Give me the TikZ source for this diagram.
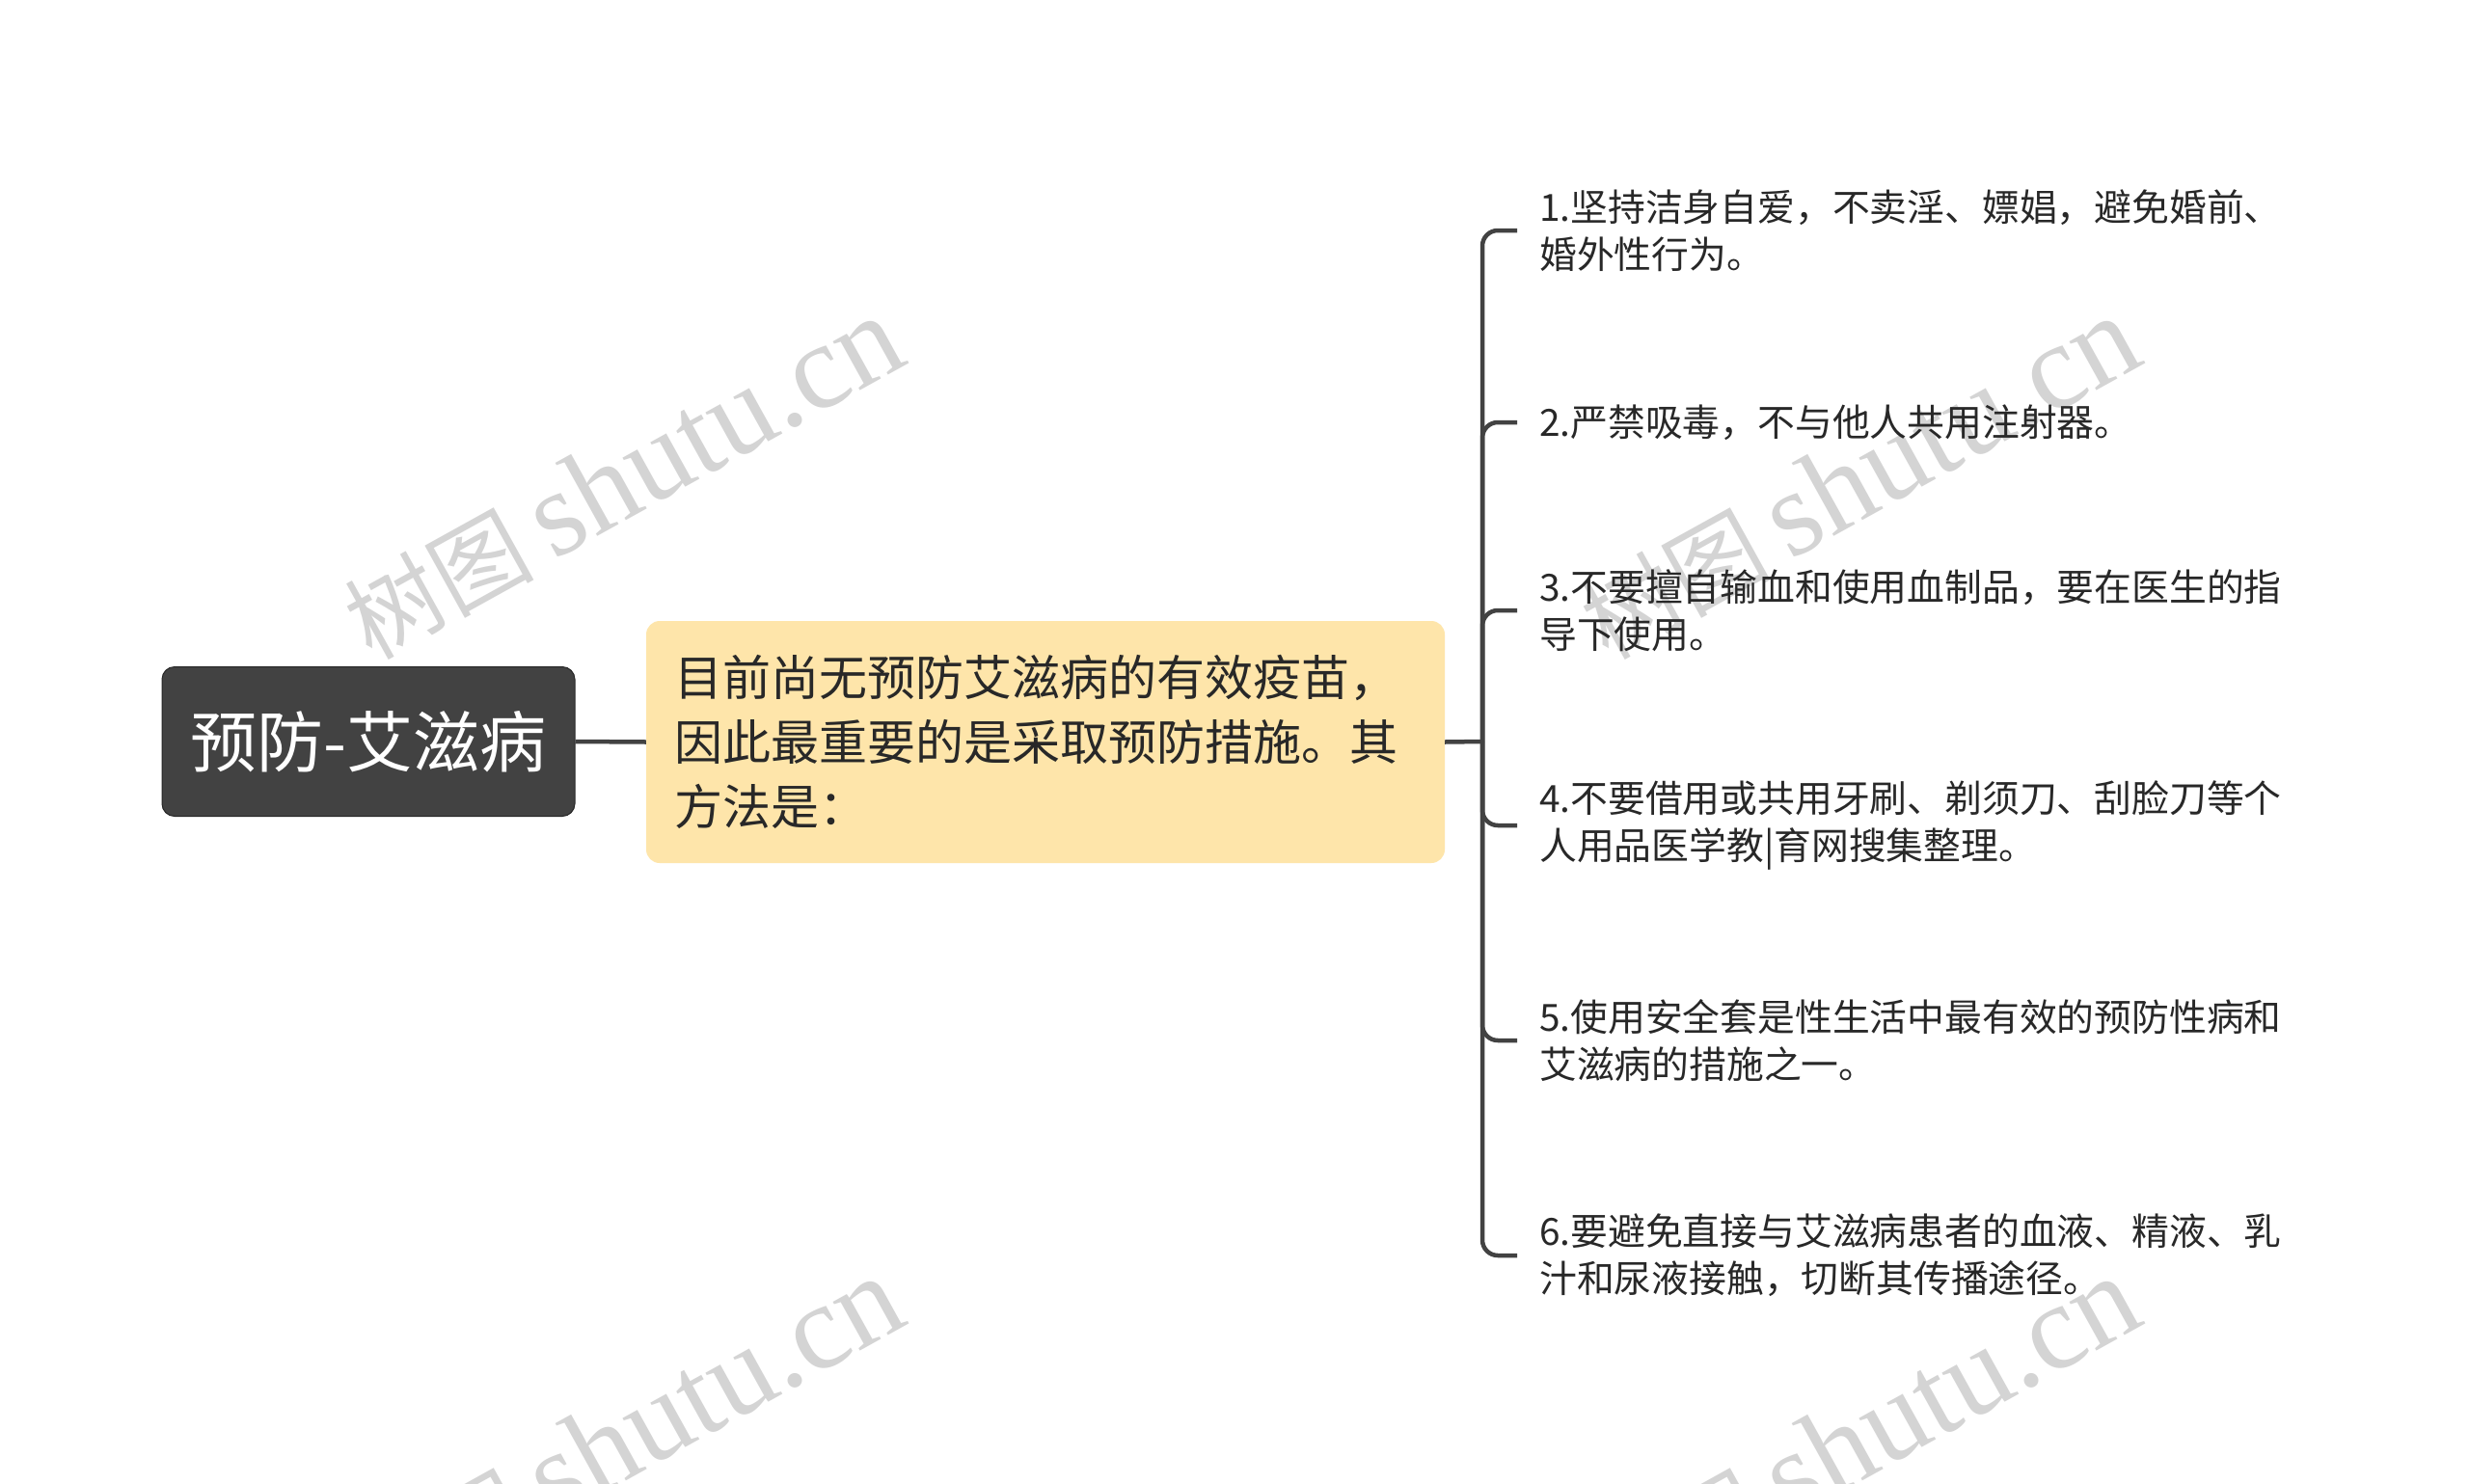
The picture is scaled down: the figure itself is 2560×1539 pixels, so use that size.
\documentclass[tikz,border=0pt]{standalone}
\usepackage{fontspec}
\setmainfont{Noto Sans CJK SC}
\newfontfamily\wmserif{Liberation Serif}
\newfontfamily\wmcjk{Noto Sans CJK SC}
\definecolor{dk}{RGB}{66,66,66}
\definecolor{midfill}{RGB}{254,229,170}
\definecolor{txt}{RGB}{40,40,40}
\definecolor{wm}{RGB}{212,212,212}
\newcommand{\wmtext}{{\fontsize{98}{110}\selectfont\wmcjk 树图}\hspace{20pt}{\fontsize{126}{130}\selectfont\wmserif shutu.cn}}
\tikzset{
  rootbox/.style={fill=dk, draw=black!85, line width=1pt, rounded corners=13pt,
    minimum width=428pt, minimum height=155pt, inner sep=0pt, text=white,
    font=\fontsize{69}{80}\selectfont},
  midbox/.style={fill=midfill, rounded corners=14pt, text width=770pt, align=left,
    inner xsep=29pt, inner ysep=0pt, minimum height=251pt, text=txt,
    font=\fontsize{50}{67}\selectfont},
  leafbox/.style={anchor=west, inner xsep=23pt, inner ysep=0pt, align=left, text=txt,
    font=\fontsize{38.8}{49}\selectfont},
  conn/.style={draw=dk, line width=4.5pt},
  wmark/.style={text=wm, rotate=29, inner sep=0pt}
}
\begin{document}
\begin{tikzpicture}[x=1pt,y=-1pt]
\useasboundingbox (0,0) rectangle (2560,1539);
\clip (0,0) rectangle (2560,1539);
\fill[white] (0,0) rectangle (2560,1539);

% watermarks
\node[wmark] (w1) at (646,496) {\wmtext};
\node[wmark] (w2) at (1928,496) {\wmtext};
\node[wmark] (w3) at (646,1492) {\wmtext};
\node[wmark] (w4) at (1928,1492) {\wmtext};

% nodes
\node[rootbox] (root) at (382,769) {预防-艾滋病};
\node[midbox] (mid) at (1084,769.5) {目前尚无预防艾滋病的有效疫苗，\\因此最重要的是采取预防措施。其\\方法是：};

\node[leafbox] (l1) at (1573,239) {1.坚持洁身自爱，不卖淫、嫖娼，避免婚前、\\婚外性行为。};
\node[leafbox] (l2) at (1573,438) {2.严禁吸毒，不与他人共用注射器。};
\node[leafbox] (l3) at (1573,633) {3.不要擅自输血和使用血制品，要在医生的指\\导下使用。};
\node[leafbox] (l4) at (1573,856) {4.不要借用或共用牙刷、剃须刀、刮脸刀等个\\人用品医学教|育网搜集整理。};
\node[leafbox] (l5) at (1573,1079) {5.使用安全套是性生活中最有效的预防性病和\\艾滋病的措施之一。};
\node[leafbox] (l6) at (1573,1302) {6.要避免直接与艾滋病患者的血液、精液、乳\\汁和尿液接触，切断其传播途径。};

% connectors
\coordinate (j) at (1537,769);
\draw[conn] (root.east) -- (mid.west);
\draw[conn] (mid.east) -- (j);
\foreach \i in {1,...,6}{
  \draw[conn, rounded corners=16pt] (j) |- (l\i.west);
}
\end{tikzpicture}
\end{document}
